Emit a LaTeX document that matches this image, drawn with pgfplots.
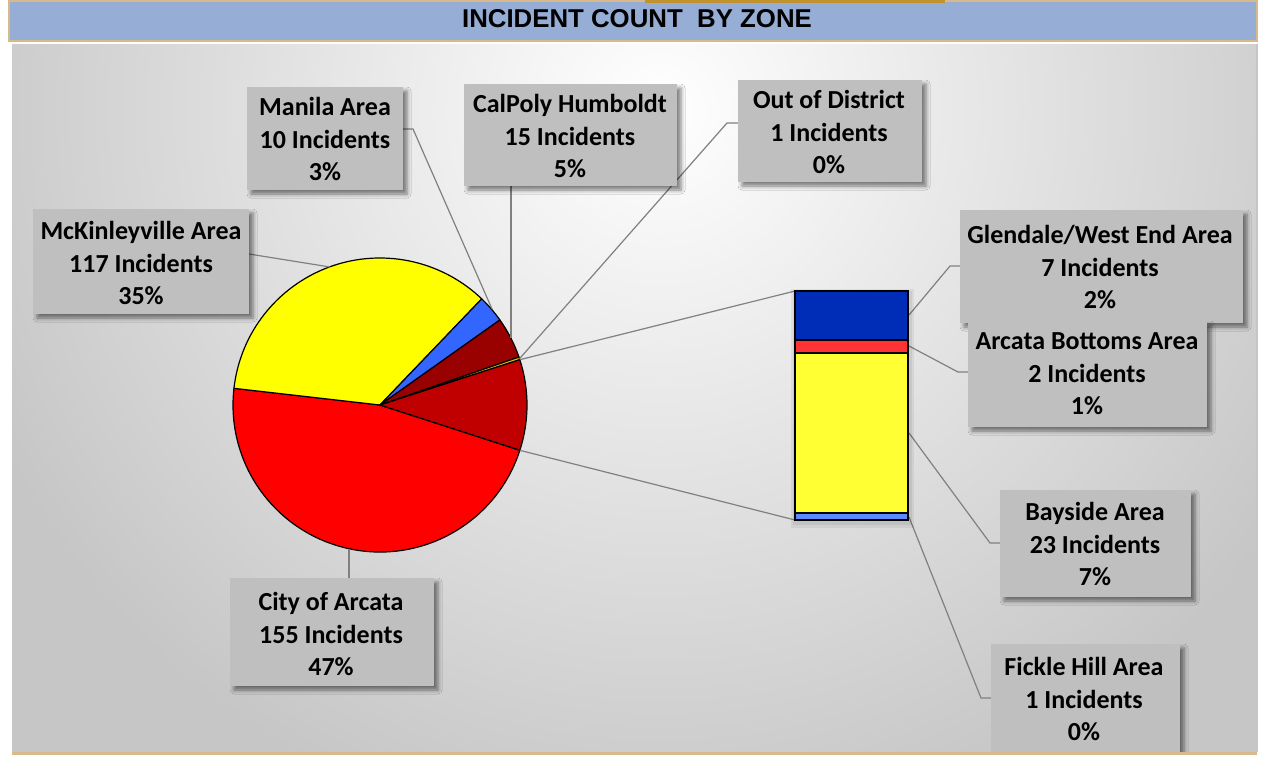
\documentclass[border=0pt]{standalone}
\usepackage{fontspec}
\setmainfont{Carlito}
\newfontfamily\titlefont{Liberation Sans}
\usepackage{pgfplots}
\usepackage{pgfplotstable}
\pgfplotsset{compat=1.18}
\usetikzlibrary{shadows.blur}

\definecolor{titleblue}{RGB}{150,173,214}
\definecolor{tanc}{RGB}{215,185,140}
\definecolor{goldc}{RGB}{192,146,48}
\definecolor{labelgray}{RGB}{191,191,191}
\definecolor{leadergray}{RGB}{128,128,128}
\definecolor{cityred}{RGB}{255,0,0}
\definecolor{mckyellow}{RGB}{255,255,0}
\definecolor{manilablue}{RGB}{51,102,255}
\definecolor{calpolyred}{RGB}{153,0,0}
\definecolor{oodcolor}{RGB}{220,190,0}
\definecolor{othercolor}{RGB}{192,0,0}
\definecolor{glendale}{RGB}{0,45,184}
\definecolor{bottoms}{RGB}{255,51,51}
\definecolor{bayside}{RGB}{255,255,51}
\definecolor{fickle}{RGB}{91,140,255}
\definecolor{bgdark}{RGB}{198,198,198}

% pie: City, McKinleyville, Manila, CalPoly, Out of District, Other (= bar)
\pgfplotstableread{
zone count col
City 155 cityred
McKinleyville 117 mckyellow
Manila 10 manilablue
CalPoly 15 calpolyred
OutOfDistrict 1 oodcolor
Other 33 othercolor
}\piedata

\newcommand\lab{\fontsize{13}{16.25}\selectfont\bfseries}
\tikzset{lbox/.style={fill=labelgray, blur shadow={shadow xshift=2pt, shadow yshift=-2pt, shadow blur radius=2pt, shadow opacity=50}},
  ltxt/.style={font=\lab, align=center, inner sep=0pt},
  lead/.style={draw=leadergray, line width=0.6pt}}

\begin{document}
\begin{tikzpicture}
\useasboundingbox (0,0) rectangle (631pt,380.5pt);
\begin{axis}[at={(0,0)}, anchor=south west, scale only axis,
  width=631pt, height=380.5pt, xmin=0, xmax=1262, ymin=0, ymax=761,
  y dir=reverse, hide axis, clip=false]
\addplot[draw=none] coordinates {(0,0)};
% background
\fill[white] (axis cs:0,0) rectangle (axis cs:1262,761);
\fill[bgdark] (axis cs:12,44) rectangle (axis cs:1257,752);
\begin{scope}
\clip (axis cs:12,44) rectangle (axis cs:1257,752);
\shade[inner color=white, outer color=bgdark] (axis cs:660,110) circle[radius=370pt];
\end{scope}
\draw[gray!45, line width=0.6pt] (axis cs:1257,44) -- (axis cs:1257,752);
% title bar
\filldraw[fill=titleblue, draw=tanc, line width=1pt] (axis cs:9,1) rectangle (axis cs:1257,41);
\fill[goldc] (axis cs:645,0) rectangle (axis cs:945,2.5);
\node[font=\titlefont\bfseries\fontsize{12.9}{14}\selectfont, inner sep=0pt] at (axis cs:637,19) {INCIDENT COUNT\ \ BY ZONE};
% pie
\pgfplotsextra{%
  \pgfplotstablegetrowsof{\piedata}%
  \pgfmathtruncatemacro\nrows{\pgfplotsretval-1}%
  \gdef\total{0}%
  \foreach \i in {0,...,\nrows}{%
    \pgfplotstablegetelem{\i}{count}\of\piedata
    \pgfmathsetmacro\t{\total+\pgfplotsretval}\xdef\total{\t}}%
  \gdef\angA{-17.946}%
  \foreach \i in {0,...,\nrows}{%
    \pgfplotstablegetelem{\i}{count}\of\piedata \let\cnt\pgfplotsretval
    \pgfplotstablegetelem{\i}{col}\of\piedata \let\col\pgfplotsretval
    \pgfmathsetmacro\angB{\angA-\cnt/\total*360}%
    \filldraw[fill=\col, draw=black, line width=0.6pt, line join=round]
      (axis cs:380,405) -- ++(\angA:73.5pt) arc[start angle=\angA, end angle=\angB, radius=73.5pt] -- cycle;
    \xdef\angA{\angB}}%
}
% connector lines pie -> bar
\draw[lead] (axis cs:519.8,359.7) -- (axis cs:795,291);
\draw[lead] (axis cs:519.8,450.3) -- (axis cs:795,520);
% leader lines
\draw[lead] (axis cs:249,254) -- (axis cs:330,267);
\draw[lead] (axis cs:403,129) -- (axis cs:413,129) -- (axis cs:492,309);
\draw[lead] (axis cs:511,186) -- (axis cs:511,338);
\draw[lead] (axis cs:738,123) -- (axis cs:727,123) -- (axis cs:519.5,358.7);
\draw[lead] (axis cs:349,578) -- (axis cs:349,549);
\draw[lead] (axis cs:960,266) -- (axis cs:950,266) -- (axis cs:909,315);
\draw[lead] (axis cs:968,372) -- (axis cs:958,372) -- (axis cs:909,346);
\draw[lead] (axis cs:1000,543) -- (axis cs:990,543) -- (axis cs:909,433);
\draw[lead] (axis cs:991,698) -- (axis cs:981,698) -- (axis cs:909,517);
% soft bar shadow
\fill[black, opacity=0.06] (axis cs:791,289) rectangle (axis cs:914,528);
\fill[black, opacity=0.06] (axis cs:793,291) rectangle (axis cs:912,525);
% label boxes
\path[lbox] (axis cs:247,87) rectangle (axis cs:403,190);
\node[ltxt] at (axis cs:325,139) {Manila Area\\10 Incidents\\3\%};
\path[lbox] (axis cs:464,84) rectangle (axis cs:677,186);
\node[ltxt] at (axis cs:570,136) {CalPoly Humboldt\\15 Incidents\\5\%};
\path[lbox] (axis cs:738,80) rectangle (axis cs:922,182);
\node[ltxt] at (axis cs:829,132) {Out of District\\1 Incidents\\0\%};
\path[lbox] (axis cs:33,209) rectangle (axis cs:249,314);
\node[ltxt] at (axis cs:141,263) {McKinleyville Area\\117 Incidents\\35\%};
\path[lbox] (axis cs:230,578) rectangle (axis cs:434,686);
\node[ltxt] at (axis cs:331,634) {City of Arcata\\155 Incidents\\47\%};
\path[lbox] (axis cs:960,210) rectangle (axis cs:1243,323);
\node[ltxt] at (axis cs:1100,267) {Glendale/West End Area\\7 Incidents\\2\%};
\path[lbox] (axis cs:968,321) rectangle (axis cs:1207,427);
\node[ltxt] at (axis cs:1087,374) {Arcata Bottoms Area\\2 Incidents\\1\%};
\path[lbox] (axis cs:1000,490) rectangle (axis cs:1191,597);
\node[ltxt] at (axis cs:1095,544) {Bayside Area\\23 Incidents\\7\%};
\path[lbox] (axis cs:991,644) rectangle (axis cs:1180,752);
\node[ltxt] at (axis cs:1084,699) {Fickle Hill Area\\1 Incidents\\0\%};
% bottom border
\fill[white] (axis cs:0,753) rectangle (axis cs:1262,761);
\draw[tanc, line width=1.2pt] (axis cs:12,753.5) -- (axis cs:1257,753.5);
\end{axis}
% stacked bar (Other = 33)
\begin{axis}[at={(397.5pt,120.5pt)}, anchor=south west, scale only axis,
  width=56.5pt, height=114.5pt, xmin=-0.5, xmax=0.5, ymin=0, ymax=33,
  hide axis, ybar stacked, bar width=56.5pt, clip=false]
\addplot[fill=fickle, draw=black, line width=1pt] coordinates {(0,1)};
\addplot[fill=bayside, draw=black, line width=1pt] coordinates {(0,23)};
\addplot[fill=bottoms, draw=black, line width=1pt] coordinates {(0,2)};
\addplot[fill=glendale, draw=black, line width=1pt] coordinates {(0,7)};
\end{axis}
\end{tikzpicture}
\end{document}
